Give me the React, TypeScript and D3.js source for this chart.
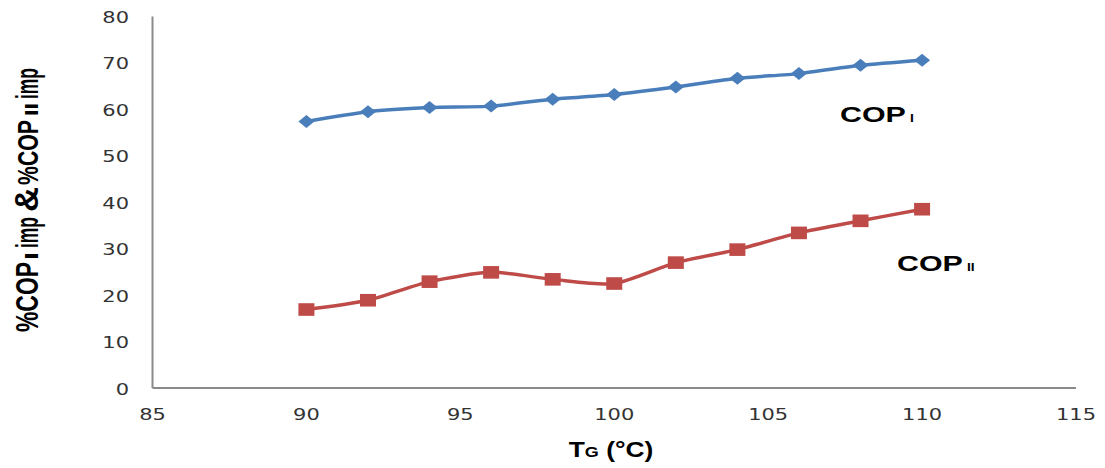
import React from 'react';
import * as d3 from 'd3';

const temps = [90, 92, 94, 96, 98, 100, 102, 104, 106, 108, 110];
const copI = [57.4, 59.5, 60.4, 60.7, 62.2, 63.2, 64.8, 66.7, 67.7, 69.5, 70.6];
const copII = [16.9, 18.9, 22.9, 24.9, 23.4, 22.5, 27.0, 29.8, 33.4, 36.0, 38.5];
const xTicks = [85, 90, 95, 100, 105, 110, 115];
const yTicks = [0, 10, 20, 30, 40, 50, 60, 70, 80];

const BLUE = '#4A7EBB';
const RED = '#BE4B48';
const AXIS = '#8a8a8a';
const TICKFONT = 'DejaVu Sans, Verdana, sans-serif';
const BOLD = 'Liberation Sans, Arial, sans-serif';

// pieces of the y-axis title: text, font size, start offset, length (along the axis)
const yTitleParts: [string, number, number, number][] = [
  ['%COP', 22, 0, 70],
  ['I', 13, 72, 8],
  ['imp', 22, 84, 31],
  ['&', 24, 120, 25],
  ['%COP', 21, 147, 65],
  ['II', 13, 216, 13],
  ['imp', 22, 233, 31],
];

export default function App() {
  const x = d3.scaleLinear().domain([85, 115]).range([152.5, 1076]);
  const y = d3.scaleLinear().domain([0, 80]).range([388, 16.5]);
  const line = d3
    .line<number>()
    .x((_, i) => x(temps[i]))
    .y((d) => y(d))
    .curve(d3.curveCardinal.tension(0.3));

  const dw = 8, dh = 6.5; // diamond half sizes
  const sw = 8, sh = 6.3; // square half sizes

  return (
    <svg
      width={1105}
      height={468}
      style={{ position: 'absolute', left: 0, top: 0, display: 'block', background: '#fff' }}
    >
      <rect width={1105} height={468} fill="#fff" />
      {/* axes */}
      <line x1={x(85)} x2={x(85)} y1={y(80)} y2={y(0)} stroke={AXIS} strokeWidth={2} />
      <line x1={x(85)} x2={x(115)} y1={y(0)} y2={y(0)} stroke={AXIS} strokeWidth={2} />

      {/* y tick labels */}
      {yTicks.map((t) => (
        <text
          key={'y' + t}
          transform={`translate(129,${y(t) + 6.5}) scale(1.4,1)`}
          textAnchor="end"
          fontFamily={TICKFONT}
          fontSize={15}
          fill="#333"
        >
          {t}
        </text>
      ))}
      {/* x tick labels */}
      {xTicks.map((t) => (
        <text
          key={'x' + t}
          transform={`translate(${x(t)},420) scale(1.4,1)`}
          textAnchor="middle"
          fontFamily={TICKFONT}
          fontSize={15}
          fill="#333"
        >
          {t}
        </text>
      ))}

      {/* series lines */}
      <path d={line(copI) || ''} fill="none" stroke={BLUE} strokeWidth={3.5} />
      <path d={line(copII) || ''} fill="none" stroke={RED} strokeWidth={3.5} />

      {/* markers */}
      {copI.map((v, i) => {
        const cx = x(temps[i]);
        const cy = y(v);
        return (
          <path
            key={'d' + i}
            d={`M${cx - dw},${cy} L${cx},${cy - dh} L${cx + dw},${cy} L${cx},${cy + dh} Z`}
            fill={BLUE}
          />
        );
      })}
      {copII.map((v, i) => {
        const cx = x(temps[i]);
        const cy = y(v);
        return <rect key={'s' + i} x={cx - sw} y={cy - sh} width={sw * 2} height={sh * 2} fill={RED} />;
      })}

      {/* series labels */}
      <text transform="translate(840,122) scale(1.38,1)" fontFamily={BOLD} fontWeight="bold" fontSize={22} fill="#000">
        COP
        <tspan dx={3} fontSize={10}>I</tspan>
      </text>
      <text transform="translate(897,271) scale(1.38,1)" fontFamily={BOLD} fontWeight="bold" fontSize={22} fill="#000">
        COP
        <tspan dx={3} fontSize={10}>II</tspan>
      </text>

      {/* x axis title */}
      <text transform="translate(611,457) scale(1.2,1)" textAnchor="middle" fontFamily={BOLD} fontWeight="bold" fontSize={22} fill="#000">
        T<tspan fontSize={15}>G</tspan> (°C)
      </text>

      {/* y axis title */}
      <g transform="translate(38,332) rotate(-90) scale(1,1.4)">
        {yTitleParts.map(([s, fs, off, len], i) => (
          <text
            key={'yt' + i}
            x={off}
            y={0}
            fontFamily={BOLD}
            fontWeight="bold"
            fontSize={fs}
            fill="#000"
            textLength={len}
            lengthAdjust="spacingAndGlyphs"
          >
            {s}
          </text>
        ))}
      </g>
    </svg>
  );
}
